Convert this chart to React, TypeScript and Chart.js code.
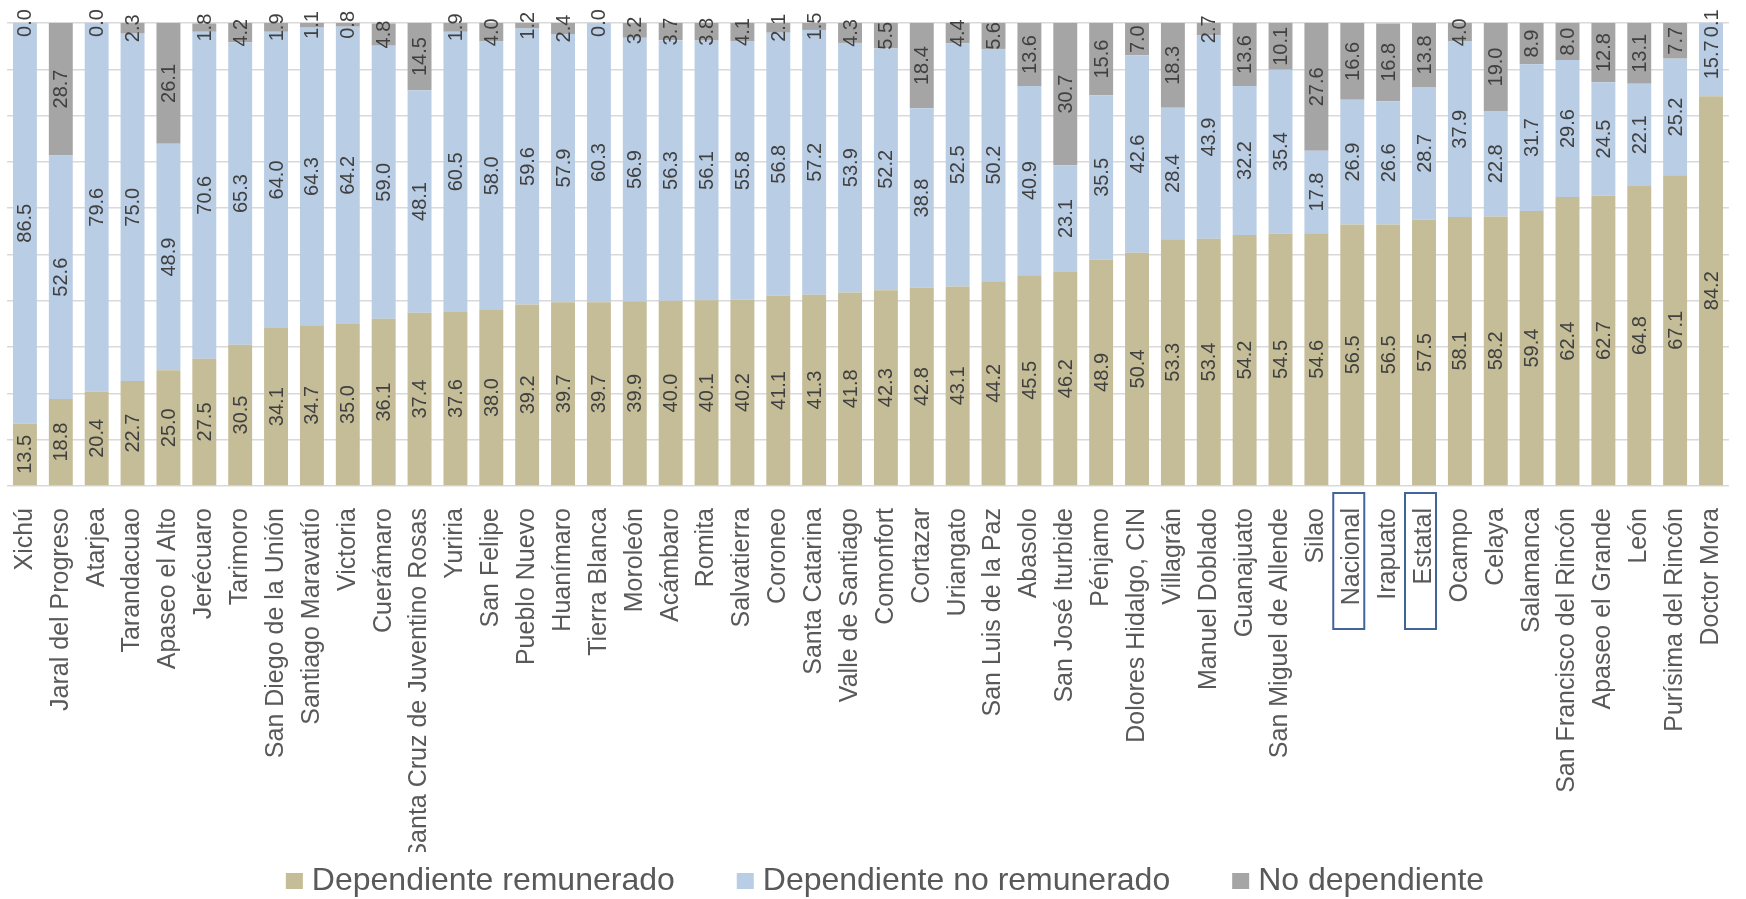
import { useEffect, useRef } from "react";
import { Chart, registerables } from "chart.js";

Chart.register(...registerables);

const categories = [
  "Xichú", "Jaral del Progreso", "Atarjea", "Tarandacuao", "Apaseo el Alto", "Jerécuaro",
  "Tarimoro", "San Diego de la Unión", "Santiago Maravatío", "Victoria", "Cuerámaro",
  "Santa Cruz de Juventino Rosas", "Yuriria", "San Felipe", "Pueblo Nuevo", "Huanímaro",
  "Tierra Blanca", "Moroleón", "Acámbaro", "Romita", "Salvatierra", "Coroneo",
  "Santa Catarina", "Valle de Santiago", "Comonfort", "Cortazar", "Uriangato",
  "San Luis de la Paz", "Abasolo", "San José Iturbide", "Pénjamo", "Dolores Hidalgo, CIN",
  "Villagrán", "Manuel Doblado", "Guanajuato", "San Miguel de Allende", "Silao", "Nacional",
  "Irapuato", "Estatal", "Ocampo", "Celaya", "Salamanca", "San Francisco del Rincón",
  "Apaseo el Grande", "León", "Purísima del Rincón", "Doctor Mora",
];

const remunerado = [
  13.5, 18.8, 20.4, 22.7, 25.0, 27.5, 30.5, 34.1, 34.7, 35.0, 36.1, 37.4, 37.6, 38.0, 39.2,
  39.7, 39.7, 39.9, 40.0, 40.1, 40.2, 41.1, 41.3, 41.8, 42.3, 42.8, 43.1, 44.2, 45.5, 46.2,
  48.9, 50.4, 53.3, 53.4, 54.2, 54.5, 54.6, 56.5, 56.5, 57.5, 58.1, 58.2, 59.4, 62.4, 62.7,
  64.8, 67.1, 84.2,
];

const noRemunerado = [
  86.5, 52.6, 79.6, 75.0, 48.9, 70.6, 65.3, 64.0, 64.3, 64.2, 59.0, 48.1, 60.5, 58.0, 59.6,
  57.9, 60.3, 56.9, 56.3, 56.1, 55.8, 56.8, 57.2, 53.9, 52.2, 38.8, 52.5, 50.2, 40.9, 23.1,
  35.5, 42.6, 28.4, 43.9, 32.2, 35.4, 17.8, 26.9, 26.6, 28.7, 37.9, 22.8, 31.7, 29.6, 24.5,
  22.1, 25.2, 15.7,
];

const noDependiente = [
  0.0, 28.7, 0.0, 2.3, 26.1, 1.8, 4.2, 1.9, 1.1, 0.8, 4.8, 14.5, 1.9, 4.0, 1.2,
  2.4, 0.0, 3.2, 3.7, 3.8, 4.1, 2.1, 1.5, 4.3, 5.5, 18.4, 4.4, 5.6, 13.6, 30.7,
  15.6, 7.0, 18.3, 2.7, 13.6, 10.1, 27.6, 16.6, 16.8, 13.8, 4.0, 19.0, 8.9, 8.0, 12.8,
  13.1, 7.7, 0.1,
];

const seriesNames = ["Dependiente remunerado", "Dependiente no remunerado", "No dependiente"];
const seriesColors = ["#C4BD97", "#B9CDE5", "#A5A5A5"];
const highlighted = ["Nacional", "Estatal"];

const FONT = "'Liberation Sans', Arial, sans-serif";

const segmentLabels = {
  id: "segmentLabels",
  afterDatasetsDraw(chart: any) {
    const ctx = chart.ctx;
    ctx.save();
    ctx.font = `20px ${FONT}`;
    ctx.fillStyle = "#404040";
    ctx.textAlign = "center";
    ctx.textBaseline = "middle";
    chart.data.datasets.forEach((ds: any, di: number) => {
      const meta = chart.getDatasetMeta(di);
      meta.data.forEach((el: any, i: number) => {
        const v = ds.data[i];
        const yc = (el.y + el.base) / 2;
        ctx.save();
        ctx.translate(el.x + 1, yc);
        ctx.rotate(-Math.PI / 2);
        ctx.fillText(Number(v).toFixed(1), 0, 0);
        ctx.restore();
      });
    });
    ctx.restore();
  },
};

const highlightBoxes = {
  id: "highlightBoxes",
  afterDraw(chart: any) {
    const ctx = chart.ctx;
    const xs = chart.scales.x;
    const bottom = chart.chartArea.bottom;
    ctx.save();
    ctx.strokeStyle = "#41659A";
    ctx.lineWidth = 2;
    highlighted.forEach((name) => {
      const idx = categories.indexOf(name);
      if (idx < 0) return;
      const x = xs.getPixelForValue(idx);
      ctx.strokeRect(x - 19, bottom + 7, 31, 136);
    });
    ctx.restore();
  },
};

const bottomLegend = {
  id: "bottomLegend",
  afterDraw(chart: any) {
    const ctx = chart.ctx;
    ctx.save();
    ctx.font = `32px ${FONT}`;
    ctx.textBaseline = "middle";
    ctx.textAlign = "left";
    const box = 17;
    const boxGap = 9;
    const itemGap = 62;
    const widths = seriesNames.map((n) => ctx.measureText(n).width);
    const total =
      widths.reduce((a, w) => a + box + boxGap + w, 0) + itemGap * (seriesNames.length - 1);
    let x = 885 - total / 2;
    const yc = 881;
    seriesNames.forEach((name, i) => {
      ctx.fillStyle = seriesColors[i];
      ctx.fillRect(x, yc - 8, box, 16);
      ctx.fillStyle = "#595959";
      ctx.fillText(name, x + box + boxGap, yc);
      x += box + boxGap + widths[i] + itemGap;
    });
    ctx.restore();
  },
};

export default function App() {
  const ref = useRef<HTMLCanvasElement | null>(null);

  useEffect(() => {
    if (!ref.current) return;
    const seriesData = [remunerado, noRemunerado, noDependiente];
    const chart = new Chart(ref.current, {
      type: "bar",
      data: {
        labels: categories,
        datasets: seriesNames.map((name, i) => ({
          label: name,
          data: seriesData[i],
          backgroundColor: seriesColors[i],
          borderWidth: 0,
          categoryPercentage: 1,
          barPercentage: 0.667,
        })),
      },
      options: {
        responsive: false,
        animation: false,
        devicePixelRatio: 1,
        layout: { padding: { top: 23, left: 7, right: 0, bottom: 47 } },
        plugins: {
          tooltip: { enabled: false },
          legend: { display: false },
        },
        scales: {
          x: {
            stacked: true,
            grid: { display: false },
            border: { display: false },
            ticks: {
              autoSkip: false,
              maxRotation: 90,
              minRotation: 90,
              padding: 14,
              color: "#595959",
              font: { family: FONT, size: 25 },
            },
            afterFit: (s: any) => {
              s.height = 366;
            },
          },
          y: {
            stacked: true,
            min: 0,
            max: 100,
            ticks: { display: false, stepSize: 10 },
            border: { display: false },
            grid: { drawTicks: false, color: "#D9D9D9", lineWidth: 1.5 },
          },
        },
      },
      plugins: [segmentLabels, highlightBoxes, bottomLegend],
    });
    return () => chart.destroy();
  }, []);

  return (
    <div
      style={{
        position: "fixed",
        left: 0,
        top: 0,
        width: 1746,
        height: 899,
        overflow: "hidden",
        background: "#ffffff",
      }}
    >
      <canvas ref={ref} width={1755} height={899} style={{ display: "block", width: 1755, height: 899 }} />
    </div>
  );
}
